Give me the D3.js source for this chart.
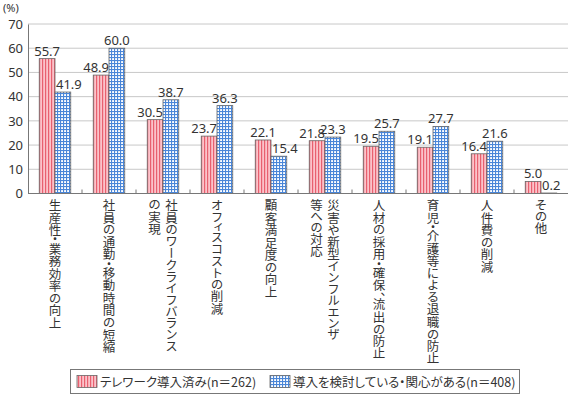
<!DOCTYPE html>
<html lang="ja">
  <head>
    <meta charset="UTF-8" />
    <title>テレワーク導入の目的</title>
    <style>
      body {
        margin: 0;
        background: #fff;
        font-family: "Noto Sans CJK JP", "Noto Sans", sans-serif;
      }
      svg text {
        fill: #333;
      }
    </style>
    <script src="https://d3js.org/d3.v7.min.js"></script>
  </head>
  <body>
  <script>
    // each category is split into columns (right to left in vertical text)
    const categories = [
      ["生産性・業務効率の向上"],
      ["社員の通勤・移動時間の短縮"],
      ["社員のワークライフバランス", "の実現"],
      ["オフィスコストの削減"],
      ["顧客満足度の向上"],
      ["災害や新型インフルエンザ", "等への対応"],
      ["人材の採用・確保、流出の防止"],
      ["育児・介護等による退職の防止"],
      ["人件費の削減"],
      ["その他"]
    ]
    const adopted = [55.7, 48.9, 30.5, 23.7, 22.1, 21.8, 19.5, 19.1, 16.4, 5.0]
    const considering = [41.9, 60.0, 38.7, 36.3, 15.4, 23.3, 25.7, 27.7, 21.6, 0.2]
    const seriesNames = ["テレワーク導入済み(n＝262)", "導入を検討している・関心がある(n＝408)"]
    const yTicks = [0, 10, 20, 30, 40, 50, 60, 70]

    const width = 571, height = 398
    const plotLeft = 28, plotRight = 568, plotTop = 24, plotBottom = 193.5

    const svg = d3.select("body").append("svg")
        .attr("width", width)
        .attr("height", height)

    const defs = svg.append("defs")
    const stripe = defs.append("pattern")
        .attr("id", "stripe")
        .attr("patternUnits", "userSpaceOnUse")
        .attr("width", 3).attr("height", 3)
    stripe.append("rect").attr("width", 3).attr("height", 3).attr("fill", "#fbc3ca")
    stripe.append("rect").attr("width", 1.2).attr("height", 3).attr("fill", "#e8606f")

    const check = defs.append("pattern")
        .attr("id", "check")
        .attr("patternUnits", "userSpaceOnUse")
        .attr("width", 3).attr("height", 3)
    check.append("rect").attr("width", 3).attr("height", 3).attr("fill", "#fff")
    check.append("rect").attr("width", 1.1).attr("height", 3).attr("fill", "#4a86d8")
    check.append("rect").attr("width", 3).attr("height", 1.1).attr("fill", "#4a86d8")

    const x = d3.scaleBand()
        .domain(d3.range(categories.length))
        .range([plotLeft, plotRight])

    const inner = d3.scaleBand()
        .domain([0, 1])
        .range([0, 31.5])

    const y = d3.scaleLinear()
        .domain([0, 70])
        .range([plotBottom, plotTop])

    // gridlines
    svg.append("g")
      .selectAll("line")
      .data(yTicks.slice(1))
      .enter().append("line")
        .attr("x1", plotLeft).attr("x2", plotRight)
        .attr("y1", d => y(d)).attr("y2", d => y(d))
        .attr("stroke", "#c8c8c8")
        .attr("stroke-width", 1)

    // y axis
    const yAxis = svg.append("g")
        .attr("transform", `translate(${plotLeft},0)`)
        .call(d3.axisLeft(y).tickValues(yTicks).tickSize(0).tickPadding(5))
    yAxis.select(".domain").attr("stroke", "#777")
    yAxis.selectAll("text")
        .attr("font-size", "13px")
        .attr("font-family", "'Noto Sans', sans-serif")
        .style("fill", "#333")

    svg.append("text")
        .attr("x", 3).attr("y", 11.5)
        .attr("font-size", "11px")
        .attr("font-family", "'Noto Sans', sans-serif")
        .text("(%)")

    const series = [
      { values: adopted, fill: "url(#stripe)" },
      { values: considering, fill: "url(#check)" }
    ]
    const bw = inner.bandwidth()
    const off = (x.bandwidth() - 31.5) / 2

    series.forEach((s, si) => {
      const other = series[1 - si].values
      const g = svg.append("g")
      g.selectAll("rect")
        .data(s.values)
        .enter().append("rect")
          .attr("x", (d, i) => x(i) + off + inner(si))
          .attr("y", d => y(d))
          .attr("width", bw)
          .attr("height", d => y(0) - y(d))
          .attr("fill", s.fill)
          .attr("stroke", "#666")
          .attr("stroke-width", 0.8)

      // the lower bar's label is pushed away from the pair's middle
      const mid = i => x(i) + off + bw
      g.selectAll("text")
        .data(s.values)
        .enter().append("text")
          .attr("x", (d, i) => d < other[i]
              ? mid(i) + (si === 0 ? 0 : 1)
              : x(i) + off + inner(si) + bw / 2)
          .attr("y", d => y(d) - 3)
          .attr("text-anchor", (d, i) => d < other[i]
              ? (si === 0 ? "end" : "start")
              : "middle")
          .attr("font-size", "13px")
          .attr("font-family", "'Noto Sans', sans-serif")
          .text(d => d.toFixed(1))
    })

    // x axis line + inner ticks at band edges
    svg.append("line")
        .attr("x1", plotLeft).attr("x2", plotRight)
        .attr("y1", plotBottom).attr("y2", plotBottom)
        .attr("stroke", "#777")
    svg.append("g")
      .selectAll("line")
      .data(d3.range(1, categories.length))
      .enter().append("line")
        .attr("x1", i => x(i)).attr("x2", i => x(i))
        .attr("y1", plotBottom).attr("y2", plotBottom - 4)
        .attr("stroke", "#777")

    // vertical category labels
    const labels = svg.append("g")
    categories.forEach((cols, i) => {
      const cx = x(i) + x.bandwidth() / 2
      const colGap = 17
      cols.forEach((c, k) => {
        const dx = (cols.length - 1) * colGap / 2 - k * colGap
        labels.append("text")
            .attr("x", cx + dx)
            .attr("y", 199)
            .attr("font-size", "12.5px")
            .style("writing-mode", "vertical-rl")
            .style("font-feature-settings", "'vpal'")
            .text(c)
      })
    })

    // legend
    const lg = svg.append("g")
    lg.append("rect")
        .attr("x", 70.5).attr("y", 369.5)
        .attr("width", 449).attr("height", 24)
        .attr("fill", "#fff")
        .attr("stroke", "#777")
    const legendX = [77, 270]
    series.forEach((s, si) => {
      lg.append("rect")
          .attr("x", legendX[si]).attr("y", 375.5)
          .attr("width", 20).attr("height", 12)
          .attr("fill", s.fill)
          .attr("stroke", "#666")
          .attr("stroke-width", 0.8)
      lg.append("text")
          .attr("x", legendX[si] + 23).attr("y", 386.5)
          .attr("font-size", "12.5px")
          .style("font-feature-settings", "'palt'")
          .text(seriesNames[si])
    })
  </script>
  </body>
</html>
